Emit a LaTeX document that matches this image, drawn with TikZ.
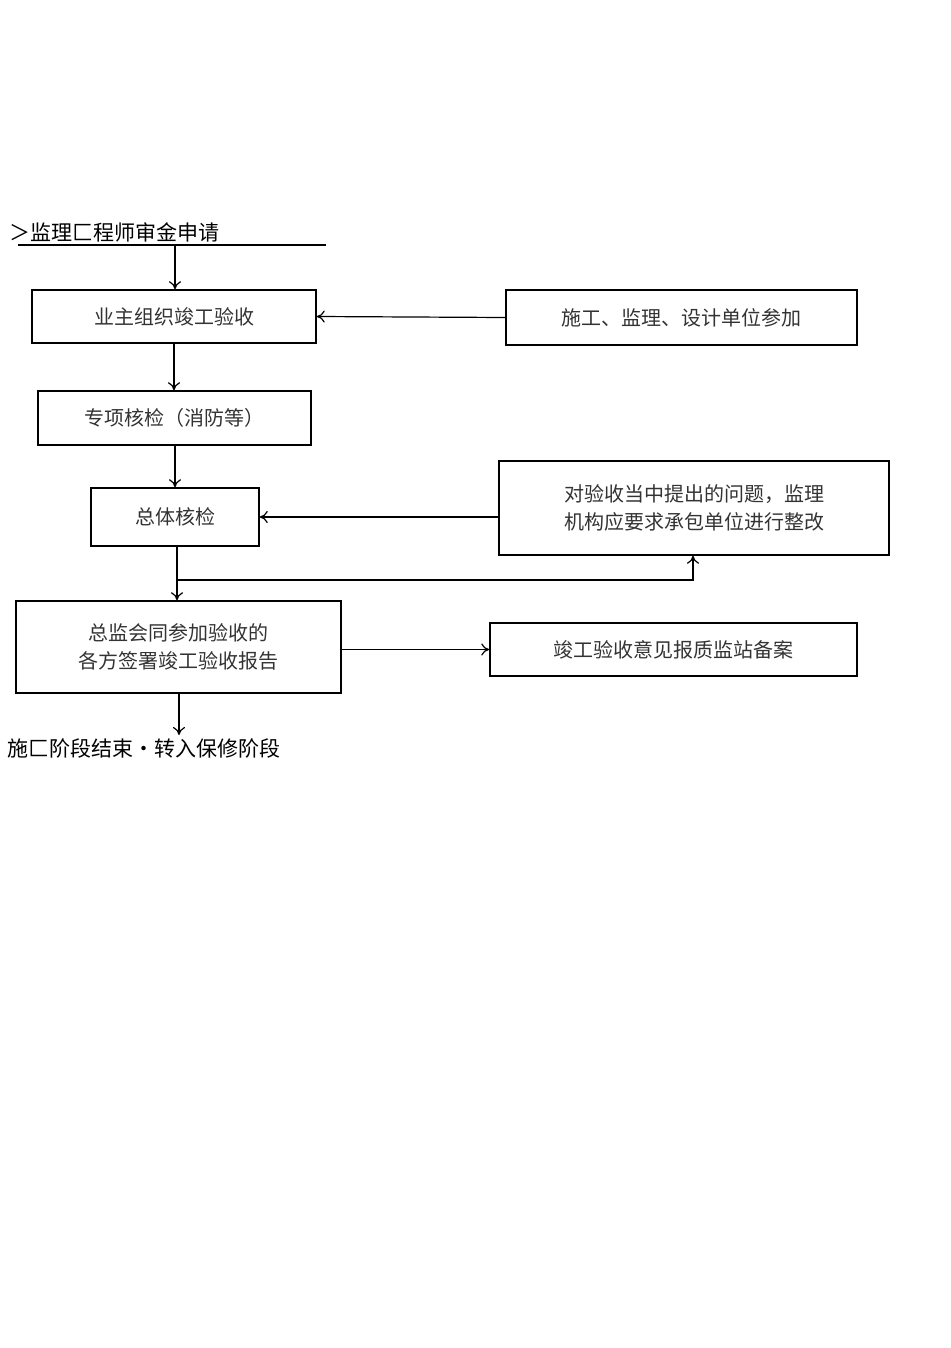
\documentclass[tikz,border=0pt]{standalone}
\usepackage{fontspec}
\setmainfont{Noto Sans CJK SC}
\usetikzlibrary{arrows.meta}
\begin{document}
\begin{tikzpicture}[x=1pt,y=-1pt,
  bx/.style={draw,line width=1.5pt,inner sep=0pt,font=\fontsize{20}{28}\selectfont,text=black!80,align=center},
  ar/.style={line width=1.2pt,-{To[length=8pt,width=12pt]}}]
\useasboundingbox (0,0) rectangle (950,1348);
\node[anchor=west,font=\fontsize{21}{24}\selectfont] (t) at (6,232) {＞监理匚程师审金申请};
\coordinate (u1) at (18,245); \coordinate (u2) at (326,245);
\draw[line width=1.5pt] (u1) -- (u2);
\coordinate (a0) at (175,245);
\node[bx,minimum width=284pt,minimum height=53pt] (b1) at (174,316.5) {业主组织竣工验收};
\node[bx,minimum width=351pt,minimum height=55pt] (b2) at (681.5,317.5) {施工、监理、设计单位参加};
\node[bx,minimum width=273pt,minimum height=54pt] (b3) at (174.5,418) {专项核检（消防等）};
\node[bx,minimum width=168pt,minimum height=58pt] (b4) at (175,517) {总体核检};
\node[bx,minimum width=390pt,minimum height=94pt] (b5) at (694,508) {对验收当中提出的问题，监理\\机构应要求承包单位进行整改};
\node[bx,minimum width=325pt,minimum height=92pt] (b6) at (178.5,647) {总监会同参加验收的\\各方签署竣工验收报告};
\node[bx,minimum width=367pt,minimum height=53pt] (b7) at (673.5,649.5) {竣工验收意见报质监站备案};
\node[anchor=west,font=\fontsize{21}{24}\selectfont] (e) at (4,748) {施匚阶段结束•转入保修阶段};
\draw[ar] (a0) -- (b1.north -| a0);
\draw[ar] (b2.west) -- (b1.east);
\draw[ar] (b1.south) -- (b3.north -| b1.south);
\draw[ar] (b3.south -| b4.north) -- (b4.north);
\draw[ar] (b5.west |- b4.east) -- (b4.east);
\draw[ar] (b4.south -| 177,0) -- (b6.north -| 177,0);
\coordinate (j) at (177,580);
\draw[ar] (j) -- (693,580) -- (b5.south -| 693,0);
\draw[ar] (b6.east |- b7.west) -- (b7.west);
\coordinate (a9) at (179,735);
\draw[ar] (b6.south -| a9) -- (a9);
\end{tikzpicture}
\end{document}
